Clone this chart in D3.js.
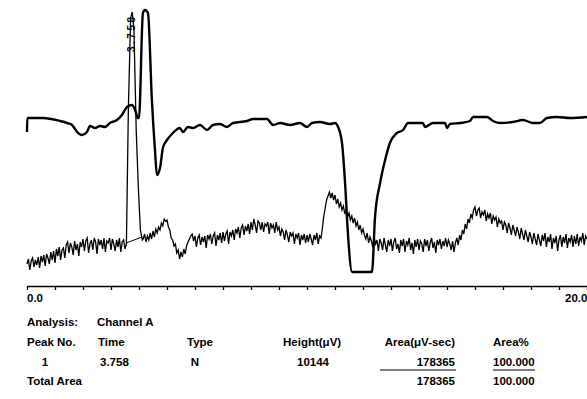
<!DOCTYPE html>
<html>
<head>
<meta charset="utf-8">
<script src="https://cdn.jsdelivr.net/npm/d3@7"></script>
<style>
  body { margin: 0; background: #fff; }
  svg { display: block; }
  text { font-family: "Liberation Sans", Arial, sans-serif; font-weight: bold; fill: #000; }
</style>
</head>
<body>
<div id="chart"></div>
<script>
// run time in minutes
const timeRange = [0, 20];
const timeTicks = d3.range(0, 21);
const axisLabels = ["0.0", "20.0"];

// upper (thick) trace
const refTimes = [0.00, 0.01, 0.57, 1.18, 1.43, 1.61, 1.79, 1.96, 2.14, 2.25, 2.43, 2.61, 2.79, 2.96, 3.21, 3.39, 3.57, 3.75, 3.86, 3.96,
    4.00, 4.14, 4.21, 4.32, 4.46, 4.57, 4.64, 4.75, 4.86, 5.00, 5.21, 5.46, 5.57, 5.75, 5.93, 6.18, 6.43, 6.64, 6.89, 7.14,
    7.36, 7.86, 8.07, 8.57, 8.79, 9.04, 9.39, 9.75, 10.00, 10.18, 10.46, 10.82, 11.00, 11.11, 11.25, 11.36, 11.46, 11.61, 12.32, 12.43,
    12.61, 12.79, 12.96, 13.21, 13.43, 13.61, 14.14, 14.21, 14.50, 14.93, 15.00, 15.11, 15.46, 15.82, 15.93, 16.43, 16.64, 16.89, 17.36, 17.71,
    18.07, 18.32, 18.57, 18.93, 19.39, 20.00];
const refValues = [148, 162, 162, 159, 157, 155, 148, 145, 148, 154, 152, 154, 153, 157, 160, 165, 173, 175, 170, 162,
    162, 267, 270, 267, 180, 130, 105, 112, 133, 140, 147, 152, 148, 153, 152, 155, 150, 155, 156, 153,
    157, 159, 161, 161, 155, 157, 155, 157, 153, 157, 158, 156, 157, 153, 137, 97, 47, 8, 8, 63,
    97, 120, 137, 147, 150, 157, 157, 153, 157, 157, 152, 156, 157, 159, 163, 163, 159, 157, 158, 160,
    157, 157, 162, 163, 162, 163];

// lower (thin) trace, one reading every 0.05 min (one row per minute);
// null where the peak is kept apart below
const sampleStep = 0.05;
const signalValues = [
    16, 21, 10, 19, 22, 13, 20, 15, 23, 12, 24, 18, 25, 14, 26, 22, 16, 28, 20, 29,
    17, 31, 24, 33, 20, 30, 32, 22, 35, 38, 27, 37, 33, 25, 39, 30, 36, 24, 38, 33,
    41, 29, 39, 42, 27, 36, 40, 30, 42, 38, 26, 41, 35, 40, 31, 42, 28, 39, 37, 42,
    30, 41, 36, 29, 40, 33, 42, 28, 38, 40, 31, null, null, null, null, null, null, null, null, null,
    null, null, null, 41, 46, 38, 44, 40, 47, 41, 49, 43, 51, 47, 53, 50, 57, 54, 61, 59,
    60, 53, 50, 42, 40, 34, 36, 27, 30, 21, 28, 23, 31, 26, 34, 38, 41, 44, 46, 39,
    44, 33, 42, 45, 35, 43, 38, 44, 32, 45, 41, 46, 36, 44, 47, 34, 45, 40, 47, 37,
    48, 39, 46, 49, 36, 48, 44, 50, 40, 51, 47, 53, 42, 52, 55, 45, 54, 49, 56, 46,
    58, 50, 61, 55, 47, 59, 57, 50, 58, 48, 56, 54, 58, 46, 57, 52, 55, 47, 58, 50,
    53, 44, 51, 48, 40, 50, 45, 38, 48, 44, 47, 36, 46, 42, 47, 35, 45, 40, 46, 37,
    45, 38, 46, 41, 35, 45, 40, 47, 36, 44, 42, 52, 64, 72, 80, 84, 88, 82, 87, 80,
    85, 76, 81, 73, 77, 70, 74, 66, 71, 63, 67, 60, 64, 57, 62, 54, 58, 50, 55, 47,
    51, 45, 41, 47, 37, 43, 39, 33, 42, 36, 40, 29, 41, 37, 30, 42, 35, 28, 40, 34,
    41, 29, 38, 42, 31, 36, 27, 40, 34, 41, 28, 39, 35, 42, 30, 37, 26, 40, 33, 41,
    30, 39, 36, 28, 41, 34, 40, 29, 37, 42, 32, 38, 27, 40, 35, 41, 31, 39, 34, 42,
    33, 40, 36, 30, 39, 28, 37, 42, 35, 45, 40, 50, 46, 56, 51, 61, 57, 66, 62, 70,
    73, 64, 70, 72, 62, 68, 65, 70, 59, 66, 62, 67, 56, 64, 60, 63, 53, 61, 57, 59,
    50, 58, 55, 47, 57, 52, 45, 55, 50, 44, 53, 48, 41, 52, 46, 40, 50, 44, 38, 48,
    43, 36, 47, 41, 35, 46, 40, 34, 45, 39, 47, 33, 43, 38, 46, 31, 42, 37, 44, 29,
    40, 45, 33, 43, 37, 46, 32, 42, 38, 45, 33, 44, 36, 46, 34, 43, 39, 47, 35, 44,
    41];

const peakTimes = [3.55, 3.62, 3.70, 3.758, 3.82, 3.90, 3.98, 4.05, 4.12];
const peakValues = [36, 170, 262, 268, 250, 150, 90, 50, 40];
const peakLabel = "3.758";

// integration baseline under peak 1
const baseTimes = [3.54, 4.11];
const baseValues = [37, 43];

// report
const channelName = "Channel A";
const tableHeaders = ["Peak No.", "Time", "Type", "Height(\u03bcV)", "Area(\u03bcV-sec)", "Area%"];
const peakRow = ["1", "3.758", "N", "10144", "178365", "100.000"];
const totalRow = ["Total Area", "", "", "", "178365", "100.000"];

const width = 587, height = 399;
const axisY = 286;

const svg = d3.select("#chart").append("svg")
    .attr("width", width)
    .attr("height", height);

const x = d3.scaleLinear().domain(timeRange).range([27, 587]);
const y = d3.scaleLinear().domain([0, 280]).range([280, 0]);

const refData = refTimes.map((t, i) => ({ t, v: refValues[i] }));

const signalData = signalValues
    .map((v, i) => ({ t: +(i * sampleStep).toFixed(2), v }))
    .filter(d => d.v !== null)
    .concat(peakTimes.map((t, i) => ({ t, v: peakValues[i] })))
    .sort((a, b) => a.t - b.t);

const line = d3.line().x(d => x(d.t)).y(d => y(d.v));

// thin trace
svg.append("path")
    .datum(signalData)
    .attr("fill", "none")
    .attr("stroke", "#000")
    .attr("stroke-width", 1.3)
    .attr("d", line);

svg.append("path")
    .datum(baseTimes.map((t, i) => ({ t, v: baseValues[i] })))
    .attr("fill", "none")
    .attr("stroke", "#000")
    .attr("stroke-width", 1)
    .attr("d", line);

// thick trace
svg.append("path")
    .datum(refData)
    .attr("fill", "none")
    .attr("stroke", "#000")
    .attr("stroke-width", 2.4)
    .attr("stroke-linejoin", "round")
    .attr("d", line.curve(d3.curveMonotoneX));

// peak label, rotated along the peak
const apex = peakTimes[peakValues.indexOf(d3.max(peakValues))];
svg.append("text")
    .attr("transform", `translate(${x(apex) + 3},${y(228)}) rotate(-90)`)
    .attr("font-size", 10)
    .attr("letter-spacing", 2.5)
    .text(peakLabel);

// time axis
const axis = svg.append("g")
    .attr("transform", `translate(0,${axisY})`)
    .call(d3.axisBottom(x).tickValues(timeTicks).tickSize(4).tickSizeOuter(0).tickFormat(""));
axis.select(".domain").attr("stroke-width", 1.6);
axis.selectAll(".tick line").attr("stroke-width", 1.3);

const fs = 11.5;
svg.append("text").attr("x", x(timeRange[0])).attr("y", axisY + 16)
    .attr("font-size", fs).text(axisLabels[0]);
svg.append("text").attr("x", x(timeRange[1]) - 22).attr("y", axisY + 16)
    .attr("font-size", fs).text(axisLabels[1]);

// report table
svg.append("text").attr("x", 27).attr("y", 326).attr("font-size", fs).text("Analysis:");
svg.append("text").attr("x", 97).attr("y", 326).attr("font-size", fs).text(channelName);

const cols = [
    { x: 27, anchor: "start" },
    { x: 98, anchor: "start" },
    { x: 187, anchor: "start" },
    { x: 283, anchor: "start" },
    { x: 455, anchor: "end" },
    { x: 493, anchor: "start" }
];
const rowCols = [
    { x: 45, anchor: "middle" },
    { x: 100, anchor: "start" },
    { x: 195, anchor: "middle" },
    { x: 313, anchor: "middle" },
    { x: 455, anchor: "end" },
    { x: 493, anchor: "start" }
];

svg.selectAll("text.hdr").data(tableHeaders).enter().append("text")
    .attr("class", "hdr")
    .attr("x", (d, i) => cols[i].x)
    .attr("y", 346)
    .attr("text-anchor", (d, i) => cols[i].anchor)
    .attr("font-size", fs)
    .text(d => d);

svg.selectAll("text.row").data(peakRow).enter().append("text")
    .attr("class", "row")
    .attr("x", (d, i) => rowCols[i].x)
    .attr("y", 366)
    .attr("text-anchor", (d, i) => rowCols[i].anchor)
    .attr("font-size", fs)
    .text(d => d);

svg.selectAll("text.tot").data(totalRow).enter().append("text")
    .attr("class", "tot")
    .attr("x", (d, i) => i === 0 ? 27 : rowCols[i].x)
    .attr("y", 385)
    .attr("text-anchor", (d, i) => i === 0 ? "start" : rowCols[i].anchor)
    .attr("font-size", fs)
    .text(d => d);

// summation rules under the area columns
svg.append("line").attr("x1", 380).attr("x2", 456).attr("y1", 370).attr("y2", 370)
    .attr("stroke", "#000").attr("stroke-width", 1.2);
svg.append("line").attr("x1", 493).attr("x2", 535).attr("y1", 370).attr("y2", 370)
    .attr("stroke", "#000").attr("stroke-width", 1.2);
</script>
</body>
</html>
